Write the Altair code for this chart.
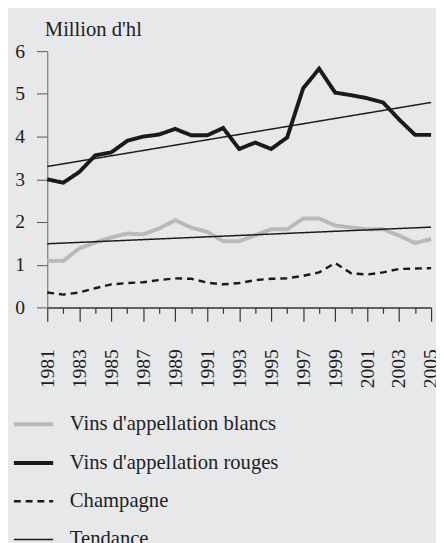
import altair as alt
import pandas as pd

years = list(range(1981, 2006))
blancs = [1.09, 1.09, 1.38, 1.52, 1.64, 1.73, 1.71, 1.85, 2.04, 1.87, 1.77, 1.55, 1.55,
          1.69, 1.83, 1.83, 2.08, 2.08, 1.92, 1.87, 1.83, 1.83, 1.68, 1.51, 1.60]
rouges = [3.00, 2.92, 3.17, 3.56, 3.63, 3.90, 4.00, 4.05, 4.18, 4.03, 4.03, 4.20, 3.71,
          3.86, 3.71, 3.98, 5.13, 5.59, 5.03, 4.97, 4.90, 4.80, 4.40, 4.04, 4.04]
champagne = [0.35, 0.30, 0.35, 0.45, 0.54, 0.57, 0.59, 0.64, 0.68, 0.67, 0.58, 0.54, 0.57,
             0.64, 0.67, 0.68, 0.74, 0.82, 1.04, 0.80, 0.77, 0.82, 0.90, 0.91, 0.92]
trend_years = [1981, 2005]
trend_rouges = [3.30, 4.80]
trend_blancs = [1.49, 1.88]

series_names = ["Vins d'appellation blancs", "Vins d'appellation rouges", "Champagne", "Tendance"]

rows = []
for y, v in zip(years, blancs):
    rows.append({"year": y, "value": v, "series": series_names[0], "grp": "b"})
for y, v in zip(years, rouges):
    rows.append({"year": y, "value": v, "series": series_names[1], "grp": "r"})
for y, v in zip(years, champagne):
    rows.append({"year": y, "value": v, "series": series_names[2], "grp": "c"})
for y, v in zip(trend_years, trend_rouges):
    rows.append({"year": y, "value": v, "series": series_names[3], "grp": "tr"})
for y, v in zip(trend_years, trend_blancs):
    rows.append({"year": y, "value": v, "series": series_names[3], "grp": "tb"})
df = pd.DataFrame(rows)

FONT = "Times New Roman, Times, Liberation Serif, DejaVu Serif, serif"
TXT = "#1e1e1e"

legend = alt.Legend(
    title=None, orient="none", legendX=-36, legendY=358, direction="vertical",
    symbolType="stroke", symbolSize=1600, labelFont=FONT, labelFontSize=21,
    labelColor=TXT, labelOffset=15, rowPadding=7.5, labelLimit=400,
)

chart = alt.Chart(df).mark_line(strokeCap="butt", strokeJoin="miter").encode(
    x=alt.X("year:Q", scale=alt.Scale(domain=[1981, 2005], nice=False, zero=False),
            axis=alt.Axis(title=None, values=years, grid=False,
                          labelExpr="datum.value % 2 == 1 ? datum.label : ''",
                          format="d", labelAngle=270, labelAlign="right", labelBaseline="middle",
                          labelFont=FONT, labelFontSize=20, labelColor=TXT,
                          labelPadding=28, labelOverlap=False, labelFlush=False,
                          tickSize={"condition": {"test": "datum.value % 2 == 1", "value": 14}, "value": 6},
                          tickColor="#333", tickWidth=1.2,
                          domainColor="#333", domainWidth=1.5)),
    y=alt.Y("value:Q", scale=alt.Scale(domain=[0, 6], nice=False),
            axis=alt.Axis(title="Million d'hl", values=[0, 1, 2, 3, 4, 5, 6], grid=False,
                          titleAngle=0, titleX=-3, titleY=-16, titleAlign="left",
                          titleBaseline="alphabetic", titleFont=FONT, titleFontSize=21,
                          titleFontWeight="normal", titleColor=TXT,
                          labelFont=FONT, labelFontSize=20, labelColor=TXT, labelPadding=12,
                          tickSize=11, tickColor="#555", tickWidth=1,
                          domainColor="#777", domainWidth=1.2)),
    color=alt.Color("series:N", sort=series_names,
                    scale=alt.Scale(domain=series_names,
                                    range=["#b9b9b9", "#1a1a1a", "#1a1a1a", "#1a1a1a"]),
                    legend=legend),
    strokeDash=alt.StrokeDash("series:N", sort=series_names,
                              scale=alt.Scale(type="ordinal", domain=series_names,
                                              range=[[1, 0], [1, 0], [7, 5], [1, 0]]),
                              legend=legend),
    strokeWidth=alt.StrokeWidth("series:N", sort=series_names,
                                scale=alt.Scale(type="ordinal", domain=series_names,
                                                range=[4, 4, 2.5, 1.5]),
                                legend=legend),
    detail="grp:N",
).properties(
    width=391, height=261,
    autosize=alt.AutoSizeParams(type="none"),
    padding={"left": 40, "top": 39, "right": 5, "bottom": 235},
    background="#e7e8ea",
).configure_view(stroke=None)

chart.save("out.html", embed_options={"renderer": "svg", "actions": False})
